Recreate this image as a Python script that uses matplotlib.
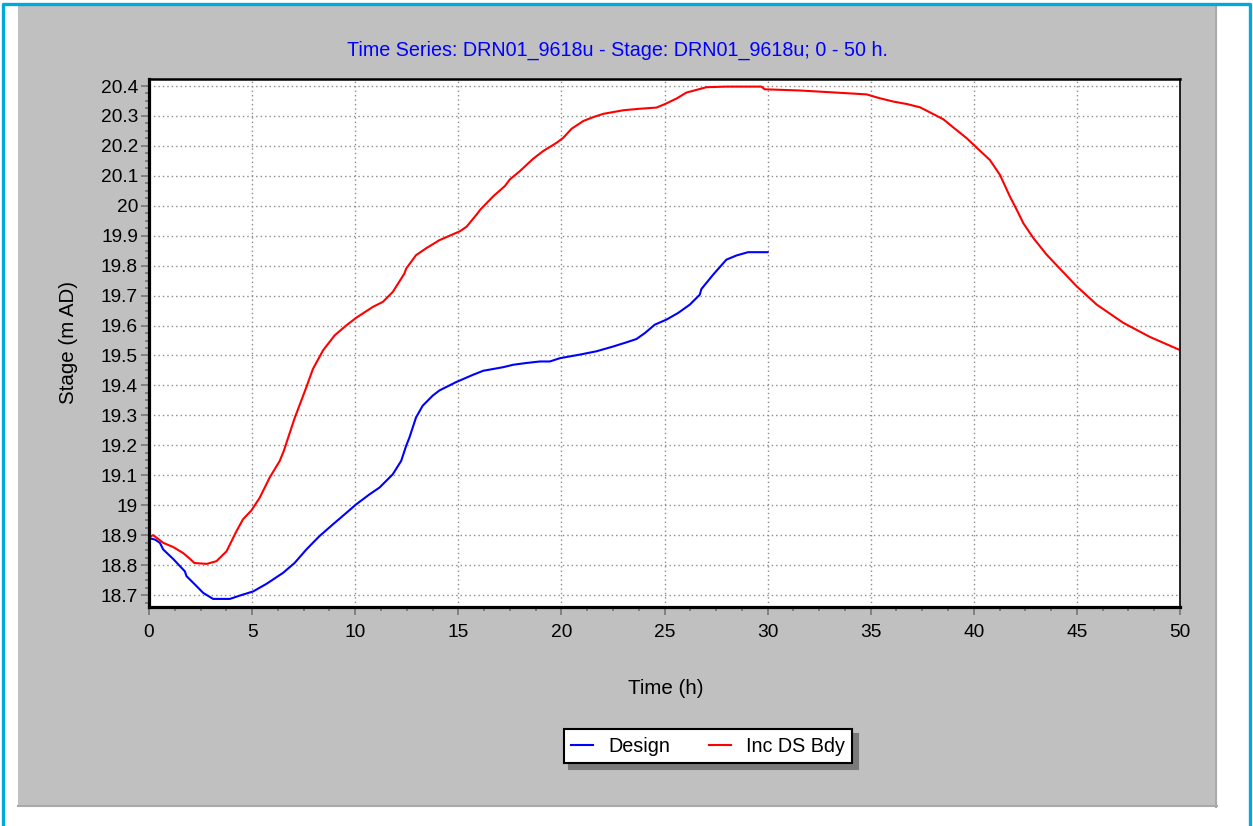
import matplotlib
matplotlib.use("Agg")
import matplotlib.pyplot as plt
from matplotlib.patches import Rectangle
from matplotlib.lines import Line2D
from matplotlib.ticker import MultipleLocator

plt.rcParams['font.family'] = ['Liberation Sans', 'DejaVu Sans']

# Design run (stops at 30 h)
t_design = [0, 0.3, 0.53, 0.69, 1.18, 1.74, 1.82, 2.23, 2.63, 3.11, 3.92, 4.4, 5.05,
            5.69, 6.5, 7.06, 7.63, 8.27, 8.92, 9.48, 10.05, 10.69, 11.18, 11.82, 12.23,
            12.47, 12.63, 12.95, 13.27, 13.76, 14.08, 14.89, 15.73, 16.21, 16.7, 17.18,
            17.66, 18.31, 18.96, 19.44, 19.93, 20.9, 21.7, 22.51, 23.16, 23.64, 24.05,
            24.53, 25.1, 25.66, 26.23, 26.71, 26.79, 27.36, 28.0, 28.49, 29.05, 30.0]
stage_design = [18.89, 18.885, 18.874, 18.852, 18.82, 18.779, 18.763, 18.735, 18.707,
                18.687, 18.687, 18.698, 18.712, 18.737, 18.774, 18.807, 18.852, 18.897,
                18.936, 18.969, 19.003, 19.036, 19.059, 19.103, 19.148, 19.198, 19.226,
                19.293, 19.332, 19.366, 19.383, 19.411, 19.436, 19.449, 19.455, 19.461,
                19.469, 19.475, 19.48, 19.48, 19.491, 19.503, 19.514, 19.53, 19.544,
                19.555, 19.575, 19.603, 19.62, 19.642, 19.67, 19.703, 19.722, 19.77,
                19.82, 19.834, 19.845, 19.845]

# Increased downstream boundary run
t_inc = [0, 0.2, 0.7, 1.18, 1.66, 2.0, 2.2, 2.8, 3.27, 3.76, 4.24, 4.56, 4.97, 5.37,
         5.85, 6.34, 6.53, 7.06, 7.63, 7.95, 8.44, 9.0, 9.56, 10.05, 10.85, 11.34, 11.82,
         12.39, 12.47, 12.95, 13.44, 14.08, 15.08, 15.4, 15.89, 16.08, 16.7, 17.26, 17.5,
         17.99, 18.63, 19.12, 19.76, 20.09, 20.49, 21.06, 21.54, 22.03, 23.0, 23.8, 24.61,
         25.0, 25.58, 26.06, 26.55, 27.03, 28.0, 29.7, 29.86, 31.57, 33.83, 34.8, 35.45,
         36.1, 36.74, 37.39, 38.04, 38.52, 39.0, 39.65, 40.14, 40.78, 41.27, 41.75, 42.08,
         42.4, 42.89, 43.53, 44.34, 44.99, 45.96, 47.25, 48.54, 50.0]
stage_inc = [18.893, 18.9, 18.874, 18.86, 18.84, 18.82, 18.807, 18.804, 18.813, 18.846,
             18.913, 18.953, 18.983, 19.025, 19.092, 19.148, 19.18, 19.29, 19.394, 19.455,
             19.517, 19.567, 19.6, 19.626, 19.662, 19.679, 19.712, 19.774, 19.79, 19.835,
             19.858, 19.885, 19.915, 19.93, 19.971, 19.988, 20.032, 20.066, 20.088, 20.116,
             20.157, 20.183, 20.21, 20.227, 20.257, 20.283, 20.296, 20.307, 20.319, 20.324,
             20.328, 20.339, 20.358, 20.378, 20.387, 20.396, 20.398, 20.398, 20.389, 20.385,
             20.376, 20.372, 20.359, 20.348, 20.34, 20.329, 20.306, 20.289, 20.262, 20.226,
             20.194, 20.153, 20.103, 20.031, 19.987, 19.942, 19.892, 19.837, 19.778, 19.731,
             19.67, 19.609, 19.562, 19.518]

W, H = 1253, 826
fig = plt.figure(figsize=(W / 100, H / 100), dpi=100)
fig.patch.set_facecolor('white')


def fx(px):
    return px / W


def fy(py):
    return 1 - py / H


# grey panel with darker right/bottom edge
fig.patches.append(Rectangle((fx(18), fy(807)), fx(1217) - fx(18), fy(6) - fy(807),
                             transform=fig.transFigure, facecolor='#c0c0c0',
                             edgecolor='none', zorder=-3))
fig.lines.append(Line2D([fx(1216), fx(1216)], [fy(6), fy(807)], transform=fig.transFigure,
                        color='#a9a9a9', lw=1.5, zorder=-2))
fig.lines.append(Line2D([fx(18), fx(1217)], [fy(806), fy(806)], transform=fig.transFigure,
                        color='#a9a9a9', lw=1.5, zorder=-2))
# outer blue frame
fig.lines.append(Line2D([fx(3.3), fx(3.3), fx(1250.3), fx(1250.3)],
                        [fy(H + 5), fy(3.8), fy(3.8), fy(H + 5)],
                        transform=fig.transFigure, color='#00a8dc', lw=2.4, zorder=-2))

ax = fig.add_axes([fx(149), fy(607), fx(1180) - fx(149), fy(79) - fy(607)])
ax.set_zorder(2)
ax.set_facecolor('white')

ax.plot(t_design, stage_design, color='#0000ff', lw=1.5, label='Design')
ax.plot(t_inc, stage_inc, color='#ff0000', lw=1.5, label='Inc DS Bdy')

ax.set_xlim(0, 50)
ax.set_ylim(18.66, 20.4234)
ax.xaxis.set_major_locator(MultipleLocator(5))
ax.xaxis.set_minor_locator(MultipleLocator(1.25))
ax.set_yticks([18.7 + 0.1 * i for i in range(18)])
ax.yaxis.set_minor_locator(MultipleLocator(0.025))
ax.yaxis.set_major_formatter(plt.FuncFormatter(lambda v, p: f'{v:.1f}'.rstrip('0').rstrip('.')))

ax.grid(True, which='major', color='#8a8a8a', linestyle=(0, (1, 2.2)), lw=1.0)
ax.tick_params(which='both', direction='out', color='#808080', width=1.4, labelsize=13.8,
               labelcolor='black')
ax.tick_params(which='major', length=6)
ax.tick_params(which='minor', length=3)
ax.tick_params(axis='x', which='major', pad=6)
ax.tick_params(axis='y', which='major', pad=2)

for side, lw in (('left', 2.3), ('bottom', 2.3), ('top', 1.8), ('right', 1.2)):
    ax.spines[side].set_color('black')
    ax.spines[side].set_linewidth(lw)

fig.text(fx(617), fy(50), 'Time Series: DRN01_9618u - Stage: DRN01_9618u; 0 - 50 h.',
         color='#0000ff', fontsize=14.2, ha='center', va='center')
fig.text(fx(666), fy(688), 'Time (h)', fontsize=14.8, ha='center', va='center')
fig.text(fx(68), fy(343), 'Stage (m AD)', fontsize=14.8, ha='center', va='center',
         rotation=90)

leg = fig.legend(loc='center', bbox_to_anchor=(fx(708), fy(746)), ncol=2, fontsize=14.2,
                 frameon=True, fancybox=False, framealpha=1, edgecolor='black',
                 handlelength=1.1, handletextpad=0.75, columnspacing=2.0, borderpad=0.4,
                 shadow={'ox': 4, 'oy': -4, 'color': '#7a7a7a', 'alpha': 1})
leg.get_frame().set_linewidth(1.5)

fig.savefig('out.png', dpi=100)
